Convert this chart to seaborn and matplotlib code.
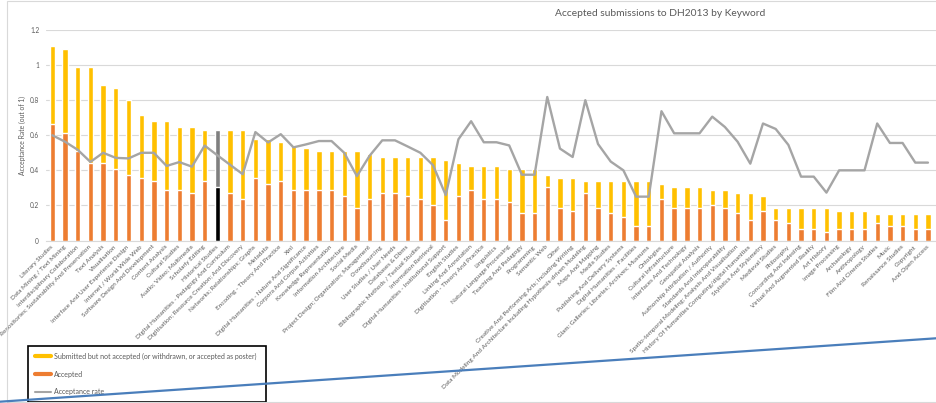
import numpy as np
import seaborn as sns
import matplotlib.pyplot as plt
from matplotlib.lines import Line2D
from matplotlib.patches import Rectangle

sns.set_theme(style="white")
plt.rcParams["font.family"] = ["Lato", "DejaVu Sans"]

# %% data (bar heights on the "out of 1" axis)
keywords = [
    "Literary Studies", "Data Mining / Text Mining", "Interdisciplinary Collaboration",
    "Repositories; Sustainability And Preservation", "Text Analysis", "Visualisation",
    "Interface And User Experience Design", "Internet / World Wide Web",
    "Software Design And Development", "Content Analysis", "Cultural Studies",
    "Audio; Video; Multimedia", "Scholarly Editing", "Historical Studies",
    "Digital Humanities - Pedagogy And Curriculum",
    "Digitisation; Resource Creation; And Discovery", "Networks; Relationships; Graphs",
    "Metadata", "Encoding - Theory And Practice", "Xml",
    "Digital Humanities - Nature And Significance", "Corpora And Corpus Activities",
    "Knowledge Representation", "Information Architecture", "Social Media",
    "Project Design; Organization; Management", "Crowdsourcing", "User Studies / User Needs",
    "Databases & Dbms", "Bibliographic Methods / Textual Studies", "Information Retrieval",
    "Digital Humanities - Institutional Support", "English Studies", "Linking And Annotation",
    "Digitisation - Theory And Practice", "Linguistics", "Natural Language Processing",
    "Teaching And Pedagogy", "Programming", "Semantic Web", "Other",
    "Creative And Performing Arts; Including Writing",
    "Data Modeling And Architecture Including Hypothesis-driven Modeling",
    "Maps And Mapping", "Media Studies", "Publishing And Delivery Systems",
    "Digital Humanities - Facilities", "Glam: Galleries; Libraries; Archives; Museums",
    "Ontologies", "Cultural Infrastructure", "Interfaces And Technology",
    "Geospatial Analysis", "Authorship Attribution / Authority",
    "Standards And Interoperability", "Spatio-temporal Modeling; Analysis And Visualisation",
    "History Of Humanities Computing/digital Humanities", "Stylistics And Stylometry",
    "Medieval Studies", "Philosophy", "Concording And Indexing",
    "Virtual And Augmented Reality", "Art History", "Image Processing", "Archaeology",
    "Anthropology", "Film And Cinema Studies", "Music", "Renaissance Studies",
    "Copyright", "And Open Access",
]

accepted = [
    0.665, 0.614, 0.512, 0.444, 0.444, 0.409, 0.375, 0.358, 0.341, 0.290,
    0.290, 0.273, 0.341, 0.307, 0.273, 0.239, 0.358, 0.324, 0.341, 0.290,
    0.290, 0.290, 0.290, 0.256, 0.188, 0.239, 0.273, 0.273, 0.256, 0.239,
    0.205, 0.119, 0.256, 0.290, 0.239, 0.239, 0.222, 0.154, 0.154, 0.307,
    0.188, 0.171, 0.273, 0.188, 0.154, 0.136, 0.085, 0.085, 0.239, 0.188,
    0.188, 0.188, 0.205, 0.188, 0.154, 0.119, 0.171, 0.119, 0.102, 0.068,
    0.068, 0.051, 0.068, 0.068, 0.068, 0.102, 0.085, 0.085, 0.068, 0.068,
]

not_accepted = [
    0.444, 0.478, 0.478, 0.546, 0.444, 0.461, 0.427, 0.358, 0.341, 0.392,
    0.358, 0.375, 0.290, 0.324, 0.358, 0.392, 0.222, 0.256, 0.222, 0.256,
    0.239, 0.222, 0.222, 0.256, 0.324, 0.256, 0.205, 0.205, 0.222, 0.239,
    0.273, 0.341, 0.188, 0.136, 0.188, 0.188, 0.188, 0.256, 0.256, 0.068,
    0.171, 0.188, 0.068, 0.154, 0.188, 0.205, 0.256, 0.256, 0.085, 0.119,
    0.119, 0.119, 0.085, 0.102, 0.119, 0.154, 0.085, 0.068, 0.085, 0.119,
    0.119, 0.136, 0.102, 0.102, 0.102, 0.051, 0.068, 0.068, 0.085, 0.085,
]

acceptance_rate = [
    0.600, 0.563, 0.517, 0.448, 0.500, 0.471, 0.468, 0.500, 0.500, 0.425,
    0.447, 0.421, 0.541, 0.486, 0.432, 0.378, 0.618, 0.559, 0.606, 0.531,
    0.548, 0.567, 0.567, 0.500, 0.367, 0.483, 0.571, 0.571, 0.536, 0.500,
    0.429, 0.259, 0.577, 0.680, 0.560, 0.560, 0.542, 0.375, 0.375, 0.818,
    0.524, 0.476, 0.800, 0.550, 0.450, 0.400, 0.250, 0.250, 0.737, 0.611,
    0.611, 0.611, 0.706, 0.647, 0.563, 0.438, 0.667, 0.636, 0.545, 0.364,
    0.364, 0.273, 0.400, 0.400, 0.400, 0.667, 0.556, 0.556, 0.444, 0.444,
]

y_ticks = [0, 0.2, 0.4, 0.6, 0.8, 1.0, 1.2]
y_tick_labels = ["0", "0.2", "0.4", "0.6", "0.8", "1", "1.2"]

YELLOW = "#FFC000"
ORANGE = "#ED7D31"
RATE_GREY = "#A5A5A5"
TEXT = "#595959"
GRID = "#D9D9D9"

# %% plot
W, H = 936, 403
fig = plt.figure(figsize=(W / 100, H / 100), dpi=100)
# chart is cropped on the right, so the axes run past the figure edge
ax = fig.add_axes([46 / W, (H - 240.5) / H, 901 / W, 210.5 / H])

total = [a + b for a, b in zip(accepted, not_accepted)]
sns.barplot(x=keywords, y=total, color=YELLOW, saturation=1, width=0.42, ax=ax)
n_first = len(ax.patches)
sns.barplot(x=keywords, y=accepted, color=ORANGE, saturation=1, width=0.42, ax=ax)

# the highlighted point in the original
hi = keywords.index("Historical Studies")
ax.patches[hi].set_facecolor("#7F7F7F")
ax.patches[n_first + hi].set_facecolor("black")

sns.lineplot(x=np.arange(len(keywords)), y=acceptance_rate, color=RATE_GREY,
             lw=1.7, ax=ax, zorder=4)

ax.set_xlim(-0.5, 70.5)
ax.set_ylim(0, 1.2)
ax.set_yticks(y_ticks)
ax.set_yticklabels(y_tick_labels, fontsize=4.7, color=TEXT)
ax.tick_params(axis="y", length=0, pad=5)
ax.set_xticks(np.arange(len(keywords)))
ax.set_xticklabels(keywords, rotation=45, ha="right", va="center",
                   rotation_mode="anchor", fontsize=4.6, color=TEXT)
ax.tick_params(axis="x", length=0, pad=4)
ax.set_xlabel("")
ax.set_ylabel("Acceptance Rate (out of 1)", fontsize=4.9, color=TEXT, labelpad=3)

ax.yaxis.grid(True, color=GRID, lw=0.8)
ax.set_axisbelow(True)
for side in ["left", "right", "top"]:
    ax.spines[side].set_visible(False)
ax.spines["bottom"].set_color(GRID)
ax.spines["bottom"].set_linewidth(0.8)

fig.text(660 / W, 1 - 14 / H, "Accepted submissions to DH2013 by Keyword",
         ha="center", va="center", fontsize=7.4, color=TEXT)

handles = [Line2D([], [], color=YELLOW, lw=3),
           Line2D([], [], color=ORANGE, lw=3),
           Line2D([], [], color=RATE_GREY, lw=1.5)]
labels = ["Submitted but not accepted (or withdrawn, or accepted as poster)",
          "Accepted", "Acceptance rate"]
leg = ax.legend(handles, labels, loc="upper left", mode="expand",
                bbox_to_anchor=(28 / W, 3 / H, 238 / W, 54 / H),
                bbox_transform=fig.transFigure,
                fontsize=5.0, frameon=True, fancybox=False, edgecolor="black",
                framealpha=1, labelspacing=1.55, borderpad=0.95, handlelength=2.3,
                handletextpad=0.5, borderaxespad=0, labelcolor=TEXT)
leg.get_frame().set_linewidth(1.2)

# chart area border and the stray blue line across the bottom
fig.add_artist(Rectangle((7 / W, 1.3 / H), 1.0, 400.5 / H, transform=fig.transFigure,
                         fill=False, edgecolor=GRID, lw=0.8))
fig.add_artist(Line2D([0, 1], [1.3 / H, 64.7 / H], transform=fig.transFigure,
                      color="#4A7EBB", lw=1.6, zorder=5))

fig.savefig("out.png", dpi=100)
